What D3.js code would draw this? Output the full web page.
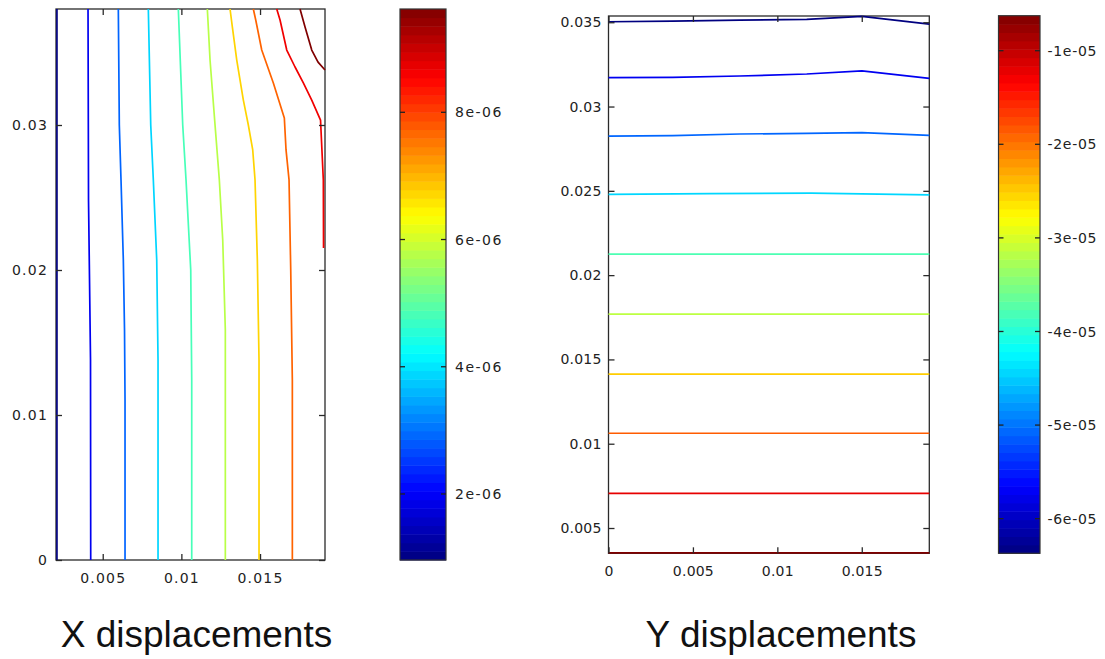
<!DOCTYPE html>
<html>
<head>
<meta charset="utf-8">
<script src="https://cdn.jsdelivr.net/npm/d3@7"></script>
<style>
  html, body { margin: 0; padding: 0; background: #fff; }
  svg { display: block; }
  .tick text { font-family: "DejaVu Sans", sans-serif; font-size: 14px; fill: #222; }
  .title { font-family: "Liberation Sans", Arial, sans-serif; font-size: 37px; fill: #111; }
  .cbl { font-family: "DejaVu Sans", sans-serif; font-size: 14px; fill: #222; }
</style>
</head>
<body>
<svg id="chart" width="1105" height="659"></svg>
<script>
// ---------------- DATA ----------------
const titles = ["X displacements", "Y displacements"];

// Left panel (X displacements)
const leftXTicks = [0.005, 0.01, 0.015];
const leftYTicks = [0, 0.01, 0.02, 0.03];
const leftCbTicks = [2e-6, 4e-6, 6e-6, 8e-6];
const leftCbLabels = ["2e-06", "4e-06", "6e-06", "8e-06"];
const leftCbRange = [0.962e-6, 9.624e-6];
const leftLevels = [0.96e-6, 1.92e-6, 2.89e-6, 3.85e-6, 4.81e-6, 5.77e-6, 6.74e-6, 7.70e-6, 8.66e-6, 9.62e-6];
const leftContours = [
  [[0.00209, 0], [0.00209, 0.038]],
  [[0.004237, 0], [0.004224, 0.01379], [0.004161, 0.01931], [0.004097, 0.02483], [0.004085, 0.03], [0.004066, 0.038]],
  [[0.006418, 0], [0.006418, 0.01103], [0.006386, 0.01586], [0.00631, 0.02069], [0.006163, 0.02621], [0.006055, 0.03], [0.005992, 0.038]],
  [[0.008516, 0], [0.008516, 0.01379], [0.008433, 0.02069], [0.008217, 0.02621], [0.008052, 0.03], [0.007899, 0.038]],
  [[0.010658, 0], [0.010658, 0.01241], [0.010595, 0.02], [0.010296, 0.02621], [0.010086, 0.03], [0.009806, 0.038]],
  [[0.012794, 0], [0.012794, 0.01586], [0.012629, 0.02207], [0.012413, 0.02621], [0.01214, 0.03], [0.011822, 0.03448], [0.01165, 0.038]],
  [[0.014936, 0], [0.014936, 0.01379], [0.014829, 0.02069], [0.014682, 0.02621], [0.014536, 0.02828], [0.014256, 0.03], [0.01394, 0.03172], [0.01352, 0.03448], [0.01324, 0.03676], [0.013093, 0.038]],
  [[0.017054, 0], [0.017054, 0.01241], [0.016952, 0.02], [0.016844, 0.02621], [0.016653, 0.02828], [0.016545, 0.03048], [0.015846, 0.0329], [0.015108, 0.03517], [0.014727, 0.03724], [0.014574, 0.038]],
  [[0.019037, 0.02152], [0.019024, 0.02621], [0.018846, 0.03034], [0.018287, 0.03172], [0.017753, 0.0329], [0.017225, 0.034], [0.016698, 0.03517], [0.016272, 0.03724], [0.016062, 0.038]],
  [[0.01913, 0.03379], [0.018687, 0.03434], [0.018287, 0.03517], [0.017861, 0.03676], [0.017543, 0.038]]
];

// Right panel (Y displacements)
const rightXTicks = [0, 0.005, 0.01, 0.015];
const rightYTicks = [0.005, 0.01, 0.015, 0.02, 0.025, 0.03, 0.035];
const rightCbTicks = [-6e-5, -5e-5, -4e-5, -3e-5, -2e-5, -1e-5];
const rightCbLabels = ["-6e-05", "-5e-05", "-4e-05", "-3e-05", "-2e-05", "-1e-05"];
const rightCbRange = [-6.37e-5, -6.26e-6];
const rightLevels = [-6.37e-5, -5.73e-5, -5.08e-5, -4.44e-5, -3.79e-5, -3.15e-5, -2.50e-5, -1.86e-5, -1.21e-5, -0.63e-5];
const rightContours = [
  [[0, 0.03503], [0.0038, 0.03507], [0.00777, 0.03512], [0.01174, 0.03517], [0.01501, 0.03535], [0.019, 0.03489]],
  [[0, 0.03171], [0.0038, 0.03173], [0.00777, 0.03181], [0.01174, 0.03193], [0.01501, 0.03211], [0.019, 0.03167]],
  [[0, 0.02825], [0.0038, 0.02828], [0.00777, 0.02837], [0.01174, 0.02841], [0.01501, 0.02845], [0.019, 0.02829]],
  [[0, 0.02479], [0.006, 0.02483], [0.012, 0.02486], [0.019, 0.02476]],
  [[0, 0.02125], [0.019, 0.02125]],
  [[0, 0.01769], [0.019, 0.01769]],
  [[0, 0.01413], [0.019, 0.01413]],
  [[0, 0.01062], [0.019, 0.01062]],
  [[0, 0.00706], [0.019, 0.00706]],
  [[0, 0.00352], [0.019, 0.00352]]
];

// ---------------- DRAW ----------------
const svg = d3.select("#chart");

function jet(t) {
  t = Math.max(0, Math.min(1, t));
  const c = v => Math.max(0, Math.min(1, v));
  const r = c(1.5 - Math.abs(4 * t - 3));
  const g = c(1.5 - Math.abs(4 * t - 2));
  const b = c(1.5 - Math.abs(4 * t - 1));
  return d3.rgb(r * 255, g * 255, b * 255).formatHex();
}

function panel(cfg) {
  const g = svg.append("g");
  const x = d3.scaleLinear().domain(cfg.xDomain).range([cfg.x0, cfg.x1]);
  const y = d3.scaleLinear().domain(cfg.yDomain).range([cfg.y1, cfg.y0]);
  const colorT = d3.scaleLinear().domain(cfg.cbRange).range([0, 1]);

  // frame
  g.append("rect")
    .attr("x", cfg.x0).attr("y", cfg.y0)
    .attr("width", cfg.x1 - cfg.x0).attr("height", cfg.y1 - cfg.y0)
    .attr("fill", "none").attr("stroke", "#2a2a2a").attr("stroke-width", 1.3);

  // contours
  const line = d3.line().x(d => x(d[0])).y(d => y(d[1]));
  g.selectAll("path.contour").data(cfg.contours).enter().append("path")
    .attr("class", "contour")
    .attr("d", line)
    .attr("fill", "none")
    .attr("stroke", (d, i) => jet(colorT(cfg.levels[i])))
    .attr("stroke-width", 1.7)
    .attr("stroke-linejoin", "round");

  const fmt = d => String(d);
  const ls = cfg.letterSpacing + "px";
  // bottom axis
  const ax = g.append("g").attr("transform", `translate(0,${cfg.y1})`)
    .call(d3.axisBottom(x).tickValues(cfg.xTicks).tickFormat(fmt).tickSizeInner(-6).tickSizeOuter(0).tickPadding(13));
  ax.select(".domain").remove();
  ax.selectAll("text").style("letter-spacing", ls);
  // top mirror
  const at = g.append("g").attr("transform", `translate(0,${cfg.y0})`)
    .call(d3.axisTop(x).tickValues(cfg.xTicks).tickFormat("").tickSizeInner(-6).tickSizeOuter(0));
  at.select(".domain").remove();
  // left axis
  const ay = g.append("g").attr("transform", `translate(${cfg.x0},0)`)
    .call(d3.axisLeft(y).tickValues(cfg.yTicks).tickFormat(fmt).tickSizeInner(-6).tickSizeOuter(0).tickPadding(cfg.yPad));
  ay.select(".domain").remove();
  ay.selectAll("text").style("letter-spacing", ls);
  // right mirror
  const ar = g.append("g").attr("transform", `translate(${cfg.x1},0)`)
    .call(d3.axisRight(y).tickValues(cfg.yTicks).tickFormat("").tickSizeInner(-6).tickSizeOuter(0));
  ar.select(".domain").remove();
  g.selectAll(".tick line").attr("stroke", "#2a2a2a").attr("stroke-width", 1.3);

  // colorbar
  const cy = d3.scaleLinear().domain(cfg.cbRange).range([cfg.cbY1, cfg.cbY0]);
  const nb = 64;
  const bands = d3.range(nb);
  const step = (cfg.cbRange[1] - cfg.cbRange[0]) / nb;
  g.selectAll("rect.band").data(bands).enter().append("rect")
    .attr("class", "band")
    .attr("x", cfg.cbX0).attr("width", cfg.cbX1 - cfg.cbX0)
    .attr("y", i => cy(cfg.cbRange[0] + (i + 1) * step))
    .attr("height", i => cy(cfg.cbRange[0] + i * step) - cy(cfg.cbRange[0] + (i + 1) * step) + 0.5)
    .attr("fill", i => jet((i + 0.5) / nb));
  g.append("rect")
    .attr("x", cfg.cbX0).attr("y", cfg.cbY0)
    .attr("width", cfg.cbX1 - cfg.cbX0).attr("height", cfg.cbY1 - cfg.cbY0)
    .attr("fill", "none").attr("stroke", "#333").attr("stroke-width", 1.2);
  cfg.cbTicks.forEach((v, i) => {
    const yy = cy(v);
    g.append("line").attr("x1", cfg.cbX0).attr("x2", cfg.cbX0 + 5).attr("y1", yy).attr("y2", yy)
      .attr("stroke", "#222").attr("stroke-width", 1.3);
    g.append("line").attr("x1", cfg.cbX1 - 5).attr("x2", cfg.cbX1).attr("y1", yy).attr("y2", yy)
      .attr("stroke", "#222").attr("stroke-width", 1.3);
    g.append("text").attr("class", "cbl")
      .attr("x", cfg.cbX1 + cfg.cbPad).attr("y", yy).attr("dy", "0.36em")
      .style("letter-spacing", cfg.cbLetterSpacing + "px")
      .text(cfg.cbLabels[i]);
  });

  // title
  g.append("text").attr("class", "title")
    .attr("x", cfg.titleX).attr("y", 647).attr("text-anchor", "middle")
    .text(cfg.title);
}

panel({
  title: titles[0], titleX: 196.5,
  x0: 56, x1: 325, y0: 9, y1: 560,
  xDomain: [0.00203, 0.01913], yDomain: [0, 0.038],
  xTicks: leftXTicks, yTicks: leftYTicks, yPad: 8, letterSpacing: 1.2,
  contours: leftContours, levels: leftLevels,
  cbRange: leftCbRange, cbTicks: leftCbTicks, cbLabels: leftCbLabels,
  cbX0: 400, cbX1: 446, cbY0: 9, cbY1: 560, cbPad: 9, cbLetterSpacing: 1.5
});

panel({
  title: titles[1], titleX: 781,
  x0: 608.5, x1: 929.3, y0: 16, y1: 553.3,
  xDomain: [0, 0.019], yDomain: [0.0035, 0.03537],
  xTicks: rightXTicks, yTicks: rightYTicks, yPad: 7, letterSpacing: 0.2,
  contours: rightContours, levels: rightLevels,
  cbRange: rightCbRange, cbTicks: rightCbTicks, cbLabels: rightCbLabels,
  cbX0: 998.5, cbX1: 1040, cbY0: 15.7, cbY1: 553.3, cbPad: 7.5, cbLetterSpacing: 0.7
});
</script>
</body>
</html>
